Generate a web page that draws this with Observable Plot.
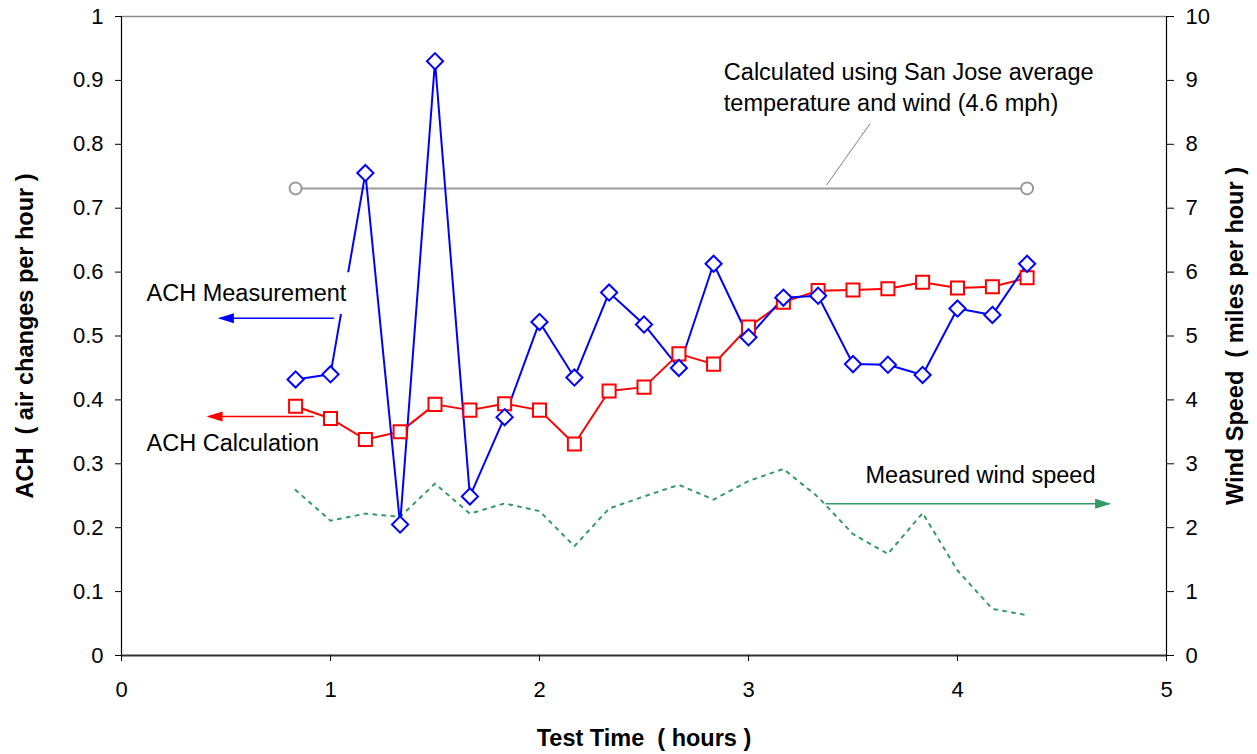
<!DOCTYPE html>
<html>
<head>
<meta charset="utf-8">
<script src="https://cdn.jsdelivr.net/npm/d3@7"></script>
<script src="https://cdn.jsdelivr.net/npm/@observablehq/plot@0.6"></script>
<style>
  html, body { margin: 0; padding: 0; background: #fff; }
</style>
</head>
<body>
<div id="chart"></div>
<script>
// ---- data ----
const times = [0.833, 1.0, 1.167, 1.333, 1.5, 1.667, 1.833, 2.0, 2.167, 2.333, 2.5,
               2.667, 2.833, 3.0, 3.167, 3.333, 3.5, 3.667, 3.833, 4.0, 4.167, 4.333];
const achMeasured = [0.432, 0.44, 0.755, 0.205, 0.93, 0.249, 0.373, 0.522, 0.435, 0.568, 0.518,
                     0.45, 0.613, 0.498, 0.560, 0.563, 0.456, 0.455, 0.439, 0.543, 0.533, 0.613];
const achCalculated = [0.39, 0.371, 0.338, 0.35, 0.393, 0.384, 0.394, 0.384, 0.331, 0.414, 0.42,
                       0.472, 0.456, 0.514, 0.553, 0.571, 0.572, 0.574, 0.584, 0.575, 0.577, 0.591];
const windSpeed = [2.59, 2.11, 2.22, 2.17, 2.69, 2.22, 2.38, 2.26, 1.71, 2.30, 2.49,
                   2.67, 2.44, 2.73, 2.92, 2.48, 1.90, 1.59, 2.23, 1.33, 0.73, 0.63];
const sanJoseTimes = [0.833, 4.333];
const sanJoseACH = [0.731, 0.731];

const xTicks = [0, 1, 2, 3, 4, 5];
const yTicks = [0, 0.1, 0.2, 0.3, 0.4, 0.5, 0.6, 0.7, 0.8, 0.9, 1];
const windTicks = [0, 1, 2, 3, 4, 5, 6, 7, 8, 9, 10];

const xTitle = "Test Time\u00a0 ( hours )";
const yTitle = "ACH\u00a0 ( air changes per hour )";
const y2Title = "Wind Speed\u00a0 ( miles per hour )";

// annotations (data units)
const labels = [
  {text: "Calculated using San Jose average\ntemperature and wind (4.6 mph)", x: 2.882, y: 0.892},
  {text: "ACH Measurement", x: 0.120, y: 0.5696},
  {text: "ACH Calculation", x: 0.120, y: 0.335},
  {text: "Measured wind speed", x: 3.560, y: 0.2848}
];
const labelBox = [{x1: 0.091, x2: 1.105, y1: 0.5336, y2: 0.599}];
const leader = [{x1: 3.373, y1: 0.736, x2: 3.581, y2: 0.832}];
const arrows = [
  {name: "measurement", x1: 1.016, x2: 0.470, y: 0.5278, color: "#0000ff", dir: "left", tip: 0.461},
  {name: "calculation", x1: 0.920, x2: 0.416, y: 0.374, color: "#ff0000", dir: "left", tip: 0.407},
  {name: "wind", x1: 3.368, x2: 4.726, y: 0.2374, color: "#339966", dir: "right", tip: 4.735}
];

// ---- tables ----
const measured = times.map((t, i) => ({t, v: achMeasured[i]}));
const calculated = times.map((t, i) => ({t, v: achCalculated[i]}));
const wind = times.map((t, i) => ({t, w: windSpeed[i]}));
const sanJose = sanJoseTimes.map((t, i) => ({t, v: sanJoseACH[i]}));

// arrowhead shapes (symbol shapes, positioned by the scales)
const arrowRight = {draw(ctx) { ctx.moveTo(0, 0); ctx.lineTo(-16, -5); ctx.lineTo(-16, 5); ctx.closePath(); }};
const arrowLeft = {draw(ctx) { ctx.moveTo(0, 0); ctx.lineTo(16, -5); ctx.lineTo(16, 5); ctx.closePath(); }};

const font = "'Liberation Sans', Arial, Helvetica, sans-serif";

const arrowMarks = arrows.flatMap(a => [
  Plot.link([a], {x1: "x1", x2: "x2", y1: "y", y2: "y", stroke: a.color, strokeWidth: 1.4}),
  Plot.dot([a], {x: "tip", y: "y", symbol: a.dir === "left" ? arrowLeft : arrowRight, fill: a.color, stroke: "none"})
]);

const chart = Plot.plot({
  width: 1257,
  height: 754,
  marginLeft: 121,
  marginRight: 91,
  marginTop: 16,
  marginBottom: 99,
  style: {fontFamily: font, fontSize: "22px", background: "white", color: "black"},
  x: {domain: [0, 5]},
  y: {domain: [0, 1]},
  marks: [
    // frame
    Plot.ruleY([1], {stroke: "#8c8c8c", strokeWidth: 1.5}),
    Plot.ruleX([5], {stroke: "black", strokeWidth: 1.2}),
    Plot.ruleX([0], {stroke: "black", strokeWidth: 1.2}),
    Plot.ruleY([0], {stroke: "#333", strokeWidth: 1.8}),
    // axes
    Plot.axisX(xTicks, {anchor: "bottom", tickSize: 6, tickPadding: 20, label: null, fontSize: 22, tickFormat: d => String(d)}),
    Plot.axisY(yTicks, {anchor: "left", tickSize: 6, tickPadding: 12, label: null, fontSize: 22, tickFormat: d => String(d)}),
    Plot.axisY(windTicks.map(w => w / 10), {anchor: "right", tickSize: 7, tickPadding: 12, label: null, fontSize: 22,
      tickFormat: v => String(Math.round(v * 10))}),
    // axis titles
    Plot.text([yTitle], {frameAnchor: "left", dx: -96, rotate: -90, textAnchor: "middle", lineAnchor: "middle",
      fontWeight: "bold", fontSize: 23.5, fill: "black"}),
    Plot.text([y2Title], {frameAnchor: "right", dx: 69, rotate: -90, textAnchor: "middle", lineAnchor: "middle",
      fontWeight: "bold", fontSize: 23.5, fill: "black"}),
    Plot.text([xTitle], {frameAnchor: "bottom", dy: 83, textAnchor: "middle", lineAnchor: "middle",
      fontWeight: "bold", fontSize: 23.5, fill: "black"}),
    // series
    Plot.line(sanJose, {x: "t", y: "v", stroke: "#999999", strokeWidth: 2}),
    Plot.dot(sanJose, {x: "t", y: "v", r: 6, stroke: "#999999", strokeWidth: 2, fill: "white"}),
    Plot.line(wind, {x: "t", y: d => d.w / 10, stroke: "#339966", strokeWidth: 2, strokeDasharray: "3,6"}),
    Plot.line(calculated, {x: "t", y: "v", stroke: "#ff0000", strokeWidth: 2}),
    Plot.line(measured, {x: "t", y: "v", stroke: "#0000ff", strokeWidth: 2}),
    Plot.dot(calculated, {x: "t", y: "v", symbol: "square2", r: 8.3, stroke: "#ff0000", strokeWidth: 2, fill: "white"}),
    Plot.dot(measured, {x: "t", y: "v", symbol: "diamond2", r: 7.3, stroke: "#0000ff", strokeWidth: 2, fill: "white"}),
    // annotations
    Plot.rect(labelBox, {x1: "x1", x2: "x2", y1: "y1", y2: "y2", fill: "white"}),
    Plot.link(leader, {x1: "x1", y1: "y1", x2: "x2", y2: "y2", stroke: "#808080", strokeWidth: 1}),
    Plot.text(labels, {x: "x", y: "y", text: "text", textAnchor: "start", fontSize: 23.5, lineHeight: 1.3, fill: "black"}),
    ...arrowMarks
  ]
});

document.getElementById("chart").appendChild(chart);
</script>
</body>
</html>
